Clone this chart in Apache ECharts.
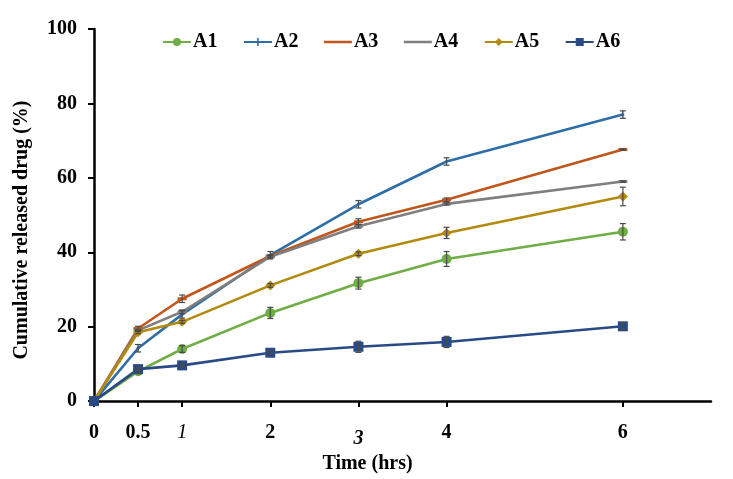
<!DOCTYPE html>
<html><head><meta charset="utf-8">
<script src="https://cdn.jsdelivr.net/npm/echarts@6/dist/echarts.min.js"></script>
<style>html,body{margin:0;padding:0;background:#fff}#c{width:733px;height:479px}</style>
</head><body><div id="c"></div>
<script>
const times = [0, 0.5, 1, 2, 3, 4, 6];
const xTickValues = [0, 0.5, 1, 2, 3, 4, 6];
const yTicks = [0, 20, 40, 60, 80, 100];
const seriesNames = ['A1', 'A2', 'A3', 'A4', 'A5', 'A6'];
const A1 = [0, 8.0, 14.0, 23.7, 31.7, 38.2, 45.5];
const A2 = [0, 14.2, 23.3, 39.2, 52.9, 64.4, 77.0];
const A3 = [0, 19.5, 27.5, 39.0, 48.2, 54.1, 67.6];
const A4 = [0, 19.0, 24.0, 38.8, 47.0, 53.0, 59.0];
const A5 = [0, 18.5, 21.3, 31.1, 39.6, 45.2, 55.0];
const A6 = [0, 8.6, 9.6, 13.0, 14.6, 15.9, 20.1];
const A1err = [0, 0.6, 0.9, 1.5, 1.6, 2.0, 2.2];
const A2err = [0, 1.0, 1.0, 1.0, 1.0, 1.0, 1.0];
const A3err = [0, 0.6, 1.0, 0.3, 0.8, 0.5, 0.2];
const A4err = [0, 0.3, 0.5, 0.3, 0.5, 0.3, 0.2];
const A5err = [0, 0.4, 0.4, 0.5, 0.5, 1.5, 2.5];
const A6err = [0, 0.4, 0.4, 0.4, 1.5, 1.5, 1.0];

const values = [A1, A2, A3, A4, A5, A6];
const errs = [A1err, A2err, A3err, A4err, A5err, A6err];
const colors = ['#70AD47', '#2E6EA6', '#C0561C', '#7F7F7F', '#B38A0E', '#2A4A85'];
const plusPath = 'path://M4,0 L6,0 L6,4 L10,4 L10,6 L6,6 L6,10 L4,10 L4,6 L0,6 L0,4 L4,4 Z';
const dashIcon = 'path://M0,0 L0.01,0 L0,0.01 Z M0,3.8 L28,3.8 L28,6.2 L0,6.2 Z M28,10 L27.99,10 L28,9.99 Z';
const symbols = ['circle', plusPath, 'rect', 'rect', 'diamond', 'rect'];
const symSizes = [10, [3, 8], [9, 3], [9, 3], 10, 10];
const FONT = 'Liberation Serif';

const series = [];
seriesNames.forEach((n, i) => {
  series.push({
    name: n, type: 'line',
    data: times.map((t, j) => [t, values[i][j]]),
    symbol: symbols[i], symbolSize: symSizes[i],
    lineStyle: {color: colors[i], width: 2.6},
    itemStyle: {color: colors[i]},
    z: 3,
    animation: false
  });
});
seriesNames.forEach((n, i) => {
  series.push({
    name: n + '_err', type: 'custom',
    data: times.map((t, j) => [t, values[i][j] - errs[i][j], values[i][j] + errs[i][j]]).filter(d => d[2] - d[1] > 0.25),
    renderItem: function (params, api) {
      const lo = api.coord([api.value(0), api.value(1)]);
      const hi = api.coord([api.value(0), api.value(2)]);
      const w = 3;
      const st = {stroke: '#4a4a4a', lineWidth: 1.2};
      return {type: 'group', children: [
        {type: 'line', shape: {x1: lo[0], y1: lo[1], x2: hi[0], y2: hi[1]}, style: st},
        {type: 'line', shape: {x1: lo[0] - w, y1: lo[1], x2: lo[0] + w, y2: lo[1]}, style: st},
        {type: 'line', shape: {x1: hi[0] - w, y1: hi[1], x2: hi[0] + w, y2: hi[1]}, style: st}
      ]};
    },
    encode: {x: 0, y: [1, 2]},
    z: 4, silent: true, animation: false
  });
});

const legendData = seriesNames.map((n, i) => (i === 2 || i === 3) ? {name: n, icon: dashIcon, itemStyle: {color: colors[i]}} : {name: n});

const chart = echarts.init(document.getElementById('c'), null, {renderer: 'canvas'});
chart.setOption({
  backgroundColor: '#fff',
  animation: false,
  grid: {left: 94, right: 22, top: 29, bottom: 76, containLabel: false},
  legend: {
    data: legendData,
    top: 27, left: 157,
    itemWidth: 28, itemHeight: 10, itemGap: 25.5,
    textStyle: {fontFamily: FONT, fontWeight: 'bold', fontSize: 20, color: '#000', padding: [0, 0, 0, -3]}
  },
  xAxis: {
    type: 'value', min: 0, max: 7,
    name: 'Time (hrs)', nameLocation: 'middle', nameGap: 46,
    nameTextStyle: {fontFamily: FONT, fontWeight: 'bold', fontSize: 20, color: '#000', padding: [0, 70, 0, 0]},
    axisLine: {lineStyle: {color: '#000', width: 2.5}},
    axisTick: {customValues: xTickValues, length: 6, lineStyle: {color: '#000', width: 2}},
    splitLine: {show: false},
    axisLabel: {
      customValues: xTickValues, margin: 22,
      fontFamily: FONT, fontWeight: 'bold', fontSize: 20, color: '#000',
      formatter: function (v) {
        if (v === 1) return '{it|1}';
        if (v === 3) return '{bi|3}';
        return String(v);
      },
      rich: {
        it: {fontFamily: FONT, fontStyle: 'italic', fontWeight: 'normal', fontSize: 20, color: '#000'},
        bi: {fontFamily: FONT, fontStyle: 'italic', fontWeight: 'bold', fontSize: 20, color: '#000', padding: [6, 0, 0, 0]}
      }
    }
  },
  yAxis: {
    type: 'value', min: 0, max: 100, interval: 20,
    name: 'Cumulative released drug (%)', nameLocation: 'middle', nameGap: 62,
    nameTextStyle: {fontFamily: FONT, fontWeight: 'bold', fontSize: 20, color: '#000', padding: [0, 30, 0, 0]},
    axisLine: {show: true, lineStyle: {color: '#000', width: 2.5}},
    axisTick: {show: true, length: 6, lineStyle: {color: '#000', width: 2}},
    splitLine: {show: false},
    axisLabel: {margin: 17, fontFamily: FONT, fontWeight: 'bold', fontSize: 20, color: '#000',
      formatter: function (v) { return yTicks.indexOf(v) >= 0 ? String(v) : ''; }}
  },
  series: series
});
</script></body></html>
